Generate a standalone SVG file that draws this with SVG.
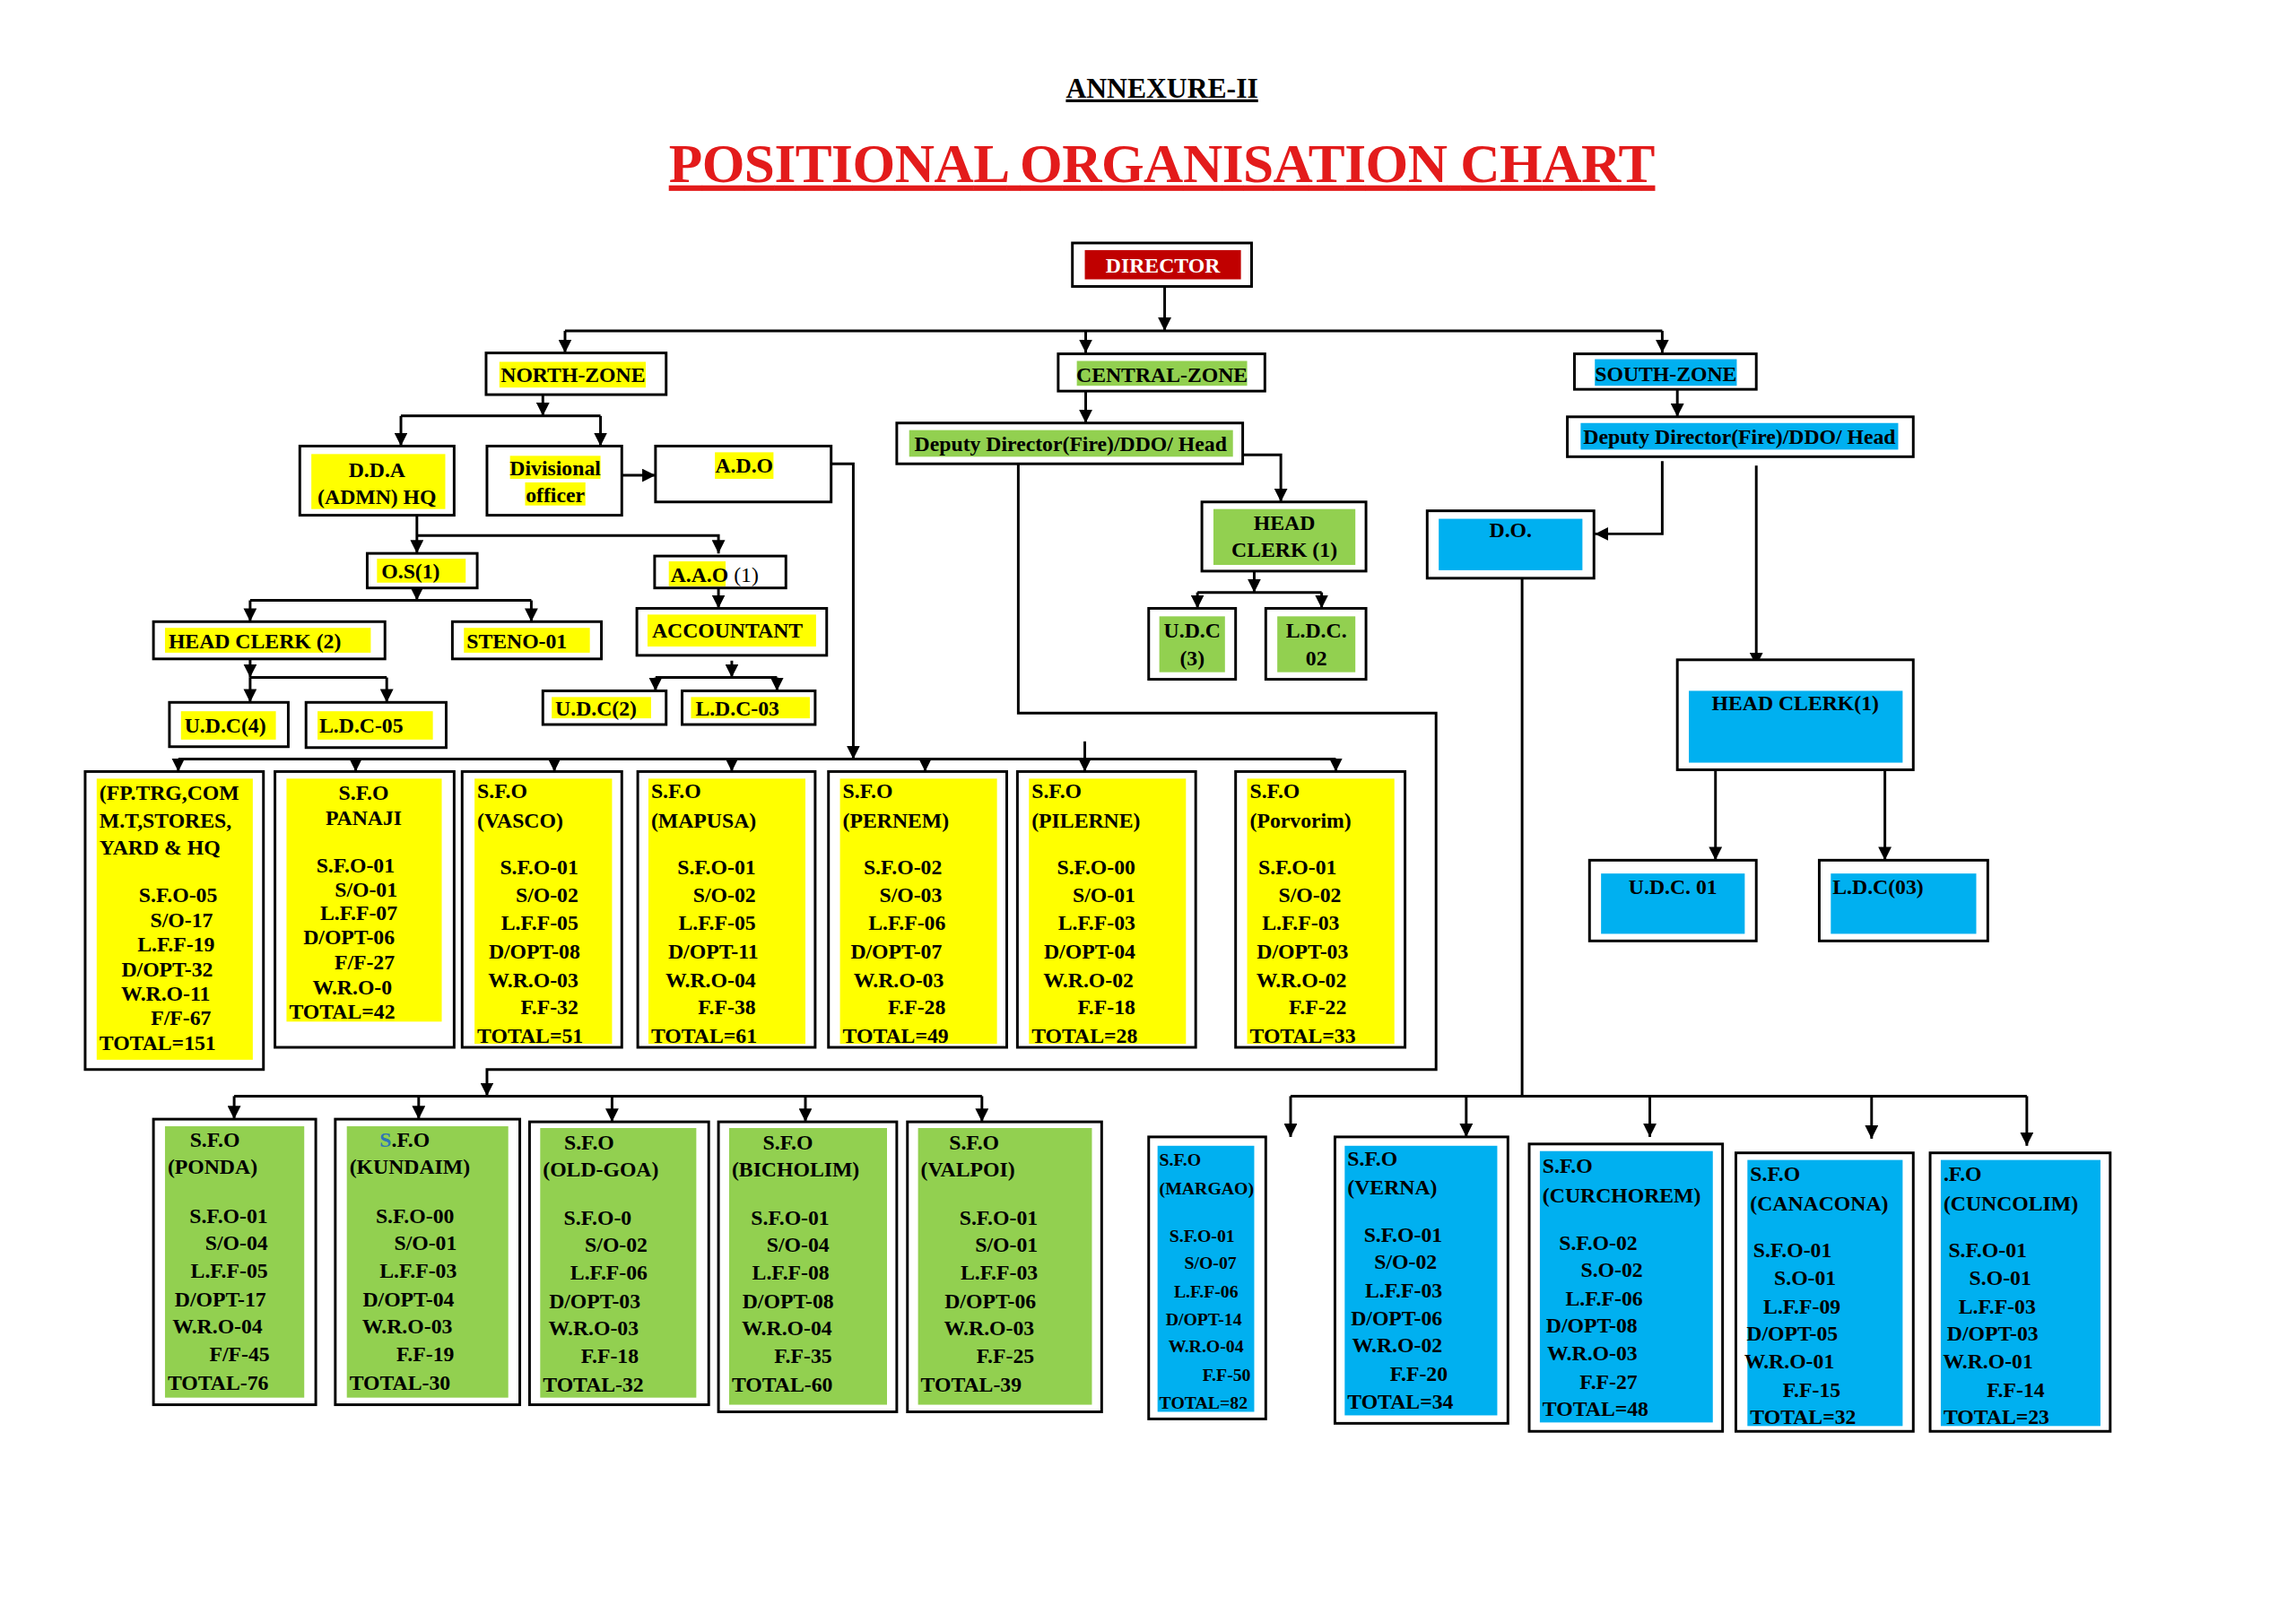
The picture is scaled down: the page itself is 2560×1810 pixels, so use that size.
<svg xmlns="http://www.w3.org/2000/svg" width="2560" height="1810" viewBox="0 0 2560 1810">
<style>
.b{fill:#fff;stroke:#000;stroke-width:3}
.y{fill:#ffff00}.g{fill:#92d050}.c{fill:#00b0f0}.r{fill:#c00000}
text{font-family:"Liberation Serif","Times New Roman",serif;font-weight:bold;font-size:24px;fill:#000}
.m{text-anchor:middle}.e{text-anchor:end}
.ln{fill:none;stroke:#000;stroke-width:3}
.s{font-size:20px}
</style>
<defs><marker id="a" viewBox="0 0 10 10" refX="10" refY="5" markerWidth="5" markerHeight="5" orient="auto" markerUnits="strokeWidth"><path d="M0,0L10,5L0,10z" fill="#000"/></marker></defs>
<rect width="2560" height="1810" fill="#fff"/>
<g transform="scale(0.989)">
<g id="title">
<text x="1310" y="110" class="m" style="font-size:32px" text-decoration="underline">ANNEXURE-II</text>
<text x="1310" y="205" class="m" style="font-size:62px;fill:#e31b1b" textLength="1112" text-decoration="underline">POSITIONAL ORGANISATION CHART</text>
</g>
<g id="connectors" class="ln">
<path d="M1313,323V373" marker-end="url(#a)"/>
<path d="M637,373H1874"/>
<path d="M637,373V398" marker-end="url(#a)"/><path d="M1224,373V398" marker-end="url(#a)"/><path d="M1874,373V398" marker-end="url(#a)"/>
<path d="M612,445V469" marker-end="url(#a)"/><path d="M452,469H677"/>
<path d="M452,469V503" marker-end="url(#a)"/><path d="M677,469V503" marker-end="url(#a)"/>
<path d="M701,536H739" marker-end="url(#a)"/>
<path d="M937,523H962V856" marker-end="url(#a)"/>
<path d="M470,581V624" marker-end="url(#a)"/><path d="M470,604H810V624" marker-end="url(#a)"/>
<path d="M810,663V686" marker-end="url(#a)"/>
<path d="M825,745V764" marker-end="url(#a)"/><path d="M739,764H876"/>
<path d="M739,764V779" marker-end="url(#a)"/><path d="M876,764V779" marker-end="url(#a)"/>
<path d="M470,663V677" marker-end="url(#a)"/><path d="M282,677H599"/>
<path d="M282,677V701" marker-end="url(#a)"/><path d="M599,677V701" marker-end="url(#a)"/>
<path d="M282,743V764" marker-end="url(#a)"/><path d="M282,764H436"/>
<path d="M282,764V792" marker-end="url(#a)"/><path d="M436,764V792" marker-end="url(#a)"/>
<path d="M201,856H1506"/>
<path d="M201,856V870" marker-end="url(#a)"/><path d="M401,856V870" marker-end="url(#a)"/><path d="M625,856V870" marker-end="url(#a)"/><path d="M825,856V870" marker-end="url(#a)"/><path d="M1043,856V870" marker-end="url(#a)"/><path d="M1223,836V870" marker-end="url(#a)"/><path d="M1506,856V870" marker-end="url(#a)"/>
<path d="M1148,523V804H1619V1206H549V1236" marker-end="url(#a)"/>
<path d="M264,1236H1107"/>
<path d="M264,1236V1262" marker-end="url(#a)"/><path d="M472,1236V1262" marker-end="url(#a)"/><path d="M690,1236V1265" marker-end="url(#a)"/><path d="M908,1236V1265" marker-end="url(#a)"/><path d="M1107,1236V1265" marker-end="url(#a)"/>
<path d="M1224,441V477" marker-end="url(#a)"/>
<path d="M1401,513H1444V566" marker-end="url(#a)"/>
<path d="M1414,644V668" marker-end="url(#a)"/><path d="M1350,668H1490"/>
<path d="M1350,668V686" marker-end="url(#a)"/><path d="M1490,668V686" marker-end="url(#a)"/>
<path d="M1891,439V470" marker-end="url(#a)"/>
<path d="M1874,520V602H1798" marker-end="url(#a)"/>
<path d="M1980,525V751" marker-end="url(#a)"/>
<path d="M1934,868V970" marker-end="url(#a)"/><path d="M2125,868V970" marker-end="url(#a)"/>
<path d="M1716,652V1236"/><path d="M1455,1236H2285"/>
<path d="M1455,1236V1282" marker-end="url(#a)"/><path d="M1653,1236V1282" marker-end="url(#a)"/><path d="M1860,1236V1282" marker-end="url(#a)"/><path d="M2110,1236V1284" marker-end="url(#a)"/><path d="M2285,1236V1292" marker-end="url(#a)"/>
</g>
<g id="director"><rect class="b" x="1209" y="274" width="202" height="49"/><rect class="r" x="1223" y="282" width="176" height="33"/><text x="1311" y="307" class="m" style="fill:#fff">DIRECTOR</text></g>
<g id="north"><rect class="b" x="548" y="398" width="203" height="47"/><rect class="y" x="563" y="408" width="165" height="29"/><text x="646" y="431" class="m">NORTH-ZONE</text></g>
<g id="dda"><rect class="b" x="338" y="503" width="174" height="78"/><rect class="y" x="351" y="512" width="151" height="62"/><text x="425" y="538" class="m">D.D.A</text><text x="425" y="568" class="m">(ADMN) HQ</text></g>
<g id="divo"><rect class="b" x="549" y="503" width="152" height="78"/><rect class="y" x="575" y="514" width="102" height="26"/><rect class="y" x="592" y="544" width="68" height="26"/><text x="626" y="536" class="m">Divisional</text><text x="626" y="566" class="m">officer</text></g>
<g id="ado"><rect class="b" x="739" y="503" width="198" height="63"/><rect class="y" x="806" y="510" width="66" height="30"/><text x="839" y="533" class="m">A.D.O</text></g>
<g id="os"><rect class="b" x="414" y="624" width="124" height="39"/><rect class="y" x="425" y="630" width="100" height="27"/><text x="430" y="652">O.S(1)</text></g>
<g id="aao"><rect class="b" x="738" y="627" width="148" height="36"/><rect class="y" x="754" y="633" width="64" height="28"/><text x="756" y="656">A.A.O <tspan style="font-weight:normal">(1)</tspan></text></g>
<g id="acc"><rect class="b" x="718" y="686" width="214" height="53"/><rect class="y" x="730" y="693" width="190" height="36"/><text x="735" y="719">ACCOUNTANT</text></g>
<g id="udc2"><rect class="b" x="612" y="779" width="139" height="38"/><rect class="y" x="622" y="786" width="112" height="24"/><text x="626" y="807">U.D.C(2)</text></g>
<g id="ldc03"><rect class="b" x="769" y="779" width="150" height="38"/><rect class="y" x="779" y="786" width="134" height="24"/><text x="784" y="807">L.D.C-03</text></g>
<g id="hc2"><rect class="b" x="173" y="701" width="261" height="42"/><rect class="y" x="186" y="708" width="232" height="28"/><text x="190" y="731">HEAD CLERK (2)</text></g>
<g id="steno"><rect class="b" x="510" y="701" width="168" height="42"/><rect class="y" x="523" y="708" width="142" height="28"/><text x="526" y="731">STENO-01</text></g>
<g id="udc4"><rect class="b" x="191" y="792" width="134" height="50"/><rect class="y" x="204" y="802" width="107" height="32"/><text x="208" y="826">U.D.C(4)</text></g>
<g id="ldc05"><rect class="b" x="345" y="792" width="158" height="51"/><rect class="y" x="358" y="802" width="130" height="32"/><text x="360" y="826">L.D.C-05</text></g>

<g id="sfo-hq"><rect class="b" x="96" y="870" width="201" height="336"/><rect class="y" x="109" y="878" width="176" height="317"/>
<text x="112" y="902">(FP.TRG,COM</text><text x="112" y="933">M.T,STORES,</text><text x="112" y="964">YARD &amp; HQ</text>
<text class="e" x="245" y="1017">S.F.O-05</text><text class="e" x="240" y="1045">S/O-17</text><text class="e" x="242" y="1073">L.F.F-19</text><text class="e" x="240" y="1101">D/OPT-32</text><text class="e" x="237" y="1128">W.R.O-11</text><text class="e" x="238" y="1156">F/F-67</text><text x="112" y="1184">TOTAL=151</text></g>
<g id="sfo-panaji"><rect class="b" x="310" y="870" width="202" height="311"/><rect class="y" x="323" y="878" width="175" height="274"/>
<text class="m" x="410" y="902">S.F.O</text><text class="m" x="410" y="930">PANAJI</text>
<text class="e" x="445" y="984">S.F.O-01</text><text class="e" x="448" y="1011">S/O-01</text><text class="e" x="448" y="1037">L.F.F-07</text><text class="e" x="445" y="1065">D/OPT-06</text><text class="e" x="445" y="1093">F/F-27</text><text class="e" x="442" y="1121">W.R.O-0</text><text x="326" y="1149">TOTAL=42</text></g>
<g id="sfo-vasco"><rect class="b" x="521" y="870" width="180" height="311"/><rect class="y" x="535" y="878" width="155" height="299"/>
<text x="538" y="900">S.F.O</text><text x="538" y="933">(VASCO)</text>
<text class="e" x="652" y="986">S.F.O-01</text><text class="e" x="652" y="1017">S/O-02</text><text class="e" x="652" y="1049">L.F.F-05</text><text class="e" x="654" y="1081">D/OPT-08</text><text class="e" x="652" y="1113">W.R.O-03</text><text class="e" x="652" y="1144">F.F-32</text><text x="538" y="1176">TOTAL=51</text></g>
<g id="sfo-mapusa"><rect class="b" x="719" y="870" width="200" height="311"/><rect class="y" x="731" y="878" width="177" height="299"/>
<text x="734" y="900">S.F.O</text><text x="734" y="933">(MAPUSA)</text>
<text class="e" x="852" y="986">S.F.O-01</text><text class="e" x="852" y="1017">S/O-02</text><text class="e" x="852" y="1049">L.F.F-05</text><text class="e" x="855" y="1081">D/OPT-11</text><text class="e" x="852" y="1113">W.R.O-04</text><text class="e" x="852" y="1144">F.F-38</text><text x="734" y="1176">TOTAL=61</text></g>
<g id="sfo-pernem"><rect class="b" x="934" y="870" width="201" height="311"/><rect class="y" x="947" y="878" width="177" height="299"/>
<text x="950" y="900">S.F.O</text><text x="950" y="933">(PERNEM)</text>
<text class="e" x="1062" y="986">S.F.O-02</text><text class="e" x="1062" y="1017">S/O-03</text><text class="e" x="1066" y="1049">L.F.F-06</text><text class="e" x="1062" y="1081">D/OPT-07</text><text class="e" x="1064" y="1113">W.R.O-03</text><text class="e" x="1066" y="1144">F.F-28</text><text x="950" y="1176">TOTAL=49</text></g>
<g id="sfo-pilerne"><rect class="b" x="1147" y="870" width="201" height="311"/><rect class="y" x="1160" y="878" width="177" height="299"/>
<text x="1163" y="900">S.F.O</text><text x="1163" y="933">(PILERNE)</text>
<text class="e" x="1280" y="986">S.F.O-00</text><text class="e" x="1280" y="1017">S/O-01</text><text class="e" x="1280" y="1049">L.F.F-03</text><text class="e" x="1280" y="1081">D/OPT-04</text><text class="e" x="1278" y="1113">W.R.O-02</text><text class="e" x="1280" y="1144">F.F-18</text><text x="1163" y="1176">TOTAL=28</text></g>
<g id="sfo-porvorim"><rect class="b" x="1393" y="870" width="191" height="311"/><rect class="y" x="1406" y="878" width="166" height="299"/>
<text x="1409" y="900">S.F.O</text><text x="1409" y="933">(Porvorim)</text>
<text class="e" x="1507" y="986">S.F.O-01</text><text class="e" x="1512" y="1017">S/O-02</text><text class="e" x="1510" y="1049">L.F.F-03</text><text class="e" x="1520" y="1081">D/OPT-03</text><text class="e" x="1518" y="1113">W.R.O-02</text><text class="e" x="1518" y="1144">F.F-22</text><text x="1409" y="1176">TOTAL=33</text></g>

<g id="sfo-ponda"><rect class="b" x="173" y="1262" width="183" height="322"/><rect class="g" x="186" y="1270" width="157" height="306"/>
<text x="214" y="1293">S.F.O</text><text x="189" y="1324">(PONDA)</text>
<text class="e" x="302" y="1379">S.F.O-01</text><text class="e" x="302" y="1410">S/O-04</text><text class="e" x="302" y="1441">L.F.F-05</text><text class="e" x="300" y="1473">D/OPT-17</text><text class="e" x="296" y="1504">W.R.O-04</text><text class="e" x="304" y="1535">F/F-45</text><text x="189" y="1567">TOTAL-76</text></g>
<g id="sfo-kundaim"><rect class="b" x="378" y="1262" width="208" height="322"/><rect class="g" x="391" y="1270" width="182" height="306"/>
<text x="428" y="1293"><tspan style="fill:#2e75b6">S</tspan>.F.O</text><text x="394" y="1324">(KUNDAIM)</text>
<text class="e" x="512" y="1379">S.F.O-00</text><text class="e" x="515" y="1410">S/O-01</text><text class="e" x="515" y="1441">L.F.F-03</text><text class="e" x="512" y="1473">D/OPT-04</text><text class="e" x="510" y="1504">W.R.O-03</text><text class="e" x="512" y="1535">F.F-19</text><text x="394" y="1567">TOTAL-30</text></g>
<g id="sfo-oldgoa"><rect class="b" x="597" y="1265" width="202" height="319"/><rect class="g" x="609" y="1272" width="176" height="304"/>
<text x="636" y="1296">S.F.O</text><text x="612" y="1327">(OLD-GOA)</text>
<text class="e" x="712" y="1381">S.F.O-0</text><text class="e" x="730" y="1412">S/O-02</text><text class="e" x="730" y="1443">L.F.F-06</text><text class="e" x="722" y="1475">D/OPT-03</text><text class="e" x="720" y="1506">W.R.O-03</text><text class="e" x="720" y="1537">F.F-18</text><text x="612" y="1569">TOTAL-32</text></g>
<g id="sfo-bicholim"><rect class="b" x="810" y="1265" width="201" height="327"/><rect class="g" x="822" y="1272" width="178" height="312"/>
<text x="860" y="1296">S.F.O</text><text x="825" y="1327">(BICHOLIM)</text>
<text class="e" x="935" y="1381">S.F.O-01</text><text class="e" x="935" y="1412">S/O-04</text><text class="e" x="935" y="1443">L.F.F-08</text><text class="e" x="940" y="1475">D/OPT-08</text><text class="e" x="938" y="1506">W.R.O-04</text><text class="e" x="938" y="1537">F.F-35</text><text x="825" y="1569">TOTAL-60</text></g>
<g id="sfo-valpoi"><rect class="b" x="1023" y="1265" width="219" height="327"/><rect class="g" x="1035" y="1272" width="196" height="312"/>
<text x="1070" y="1296">S.F.O</text><text x="1038" y="1327">(VALPOI)</text>
<text class="e" x="1170" y="1381">S.F.O-01</text><text class="e" x="1170" y="1412">S/O-01</text><text class="e" x="1170" y="1443">L.F.F-03</text><text class="e" x="1168" y="1475">D/OPT-06</text><text class="e" x="1166" y="1506">W.R.O-03</text><text class="e" x="1166" y="1537">F.F-25</text><text x="1038" y="1569">TOTAL-39</text></g>

<g id="central"><rect class="b" x="1193" y="399" width="233" height="42"/><rect class="g" x="1214" y="407" width="192" height="28"/><text x="1310" y="431" class="m">CENTRAL-ZONE</text></g>
<g id="dd-central"><rect class="b" x="1011" y="477" width="390" height="46"/><rect class="g" x="1025" y="485" width="365" height="30"/><text x="1207" y="509" class="m">Deputy Director(Fire)/DDO/ Head</text></g>
<g id="hc-central"><rect class="b" x="1355" y="566" width="185" height="78"/><rect class="g" x="1368" y="574" width="160" height="63"/><text x="1448" y="598" class="m">HEAD</text><text x="1448" y="628" class="m">CLERK (1)</text></g>
<g id="udc3"><rect class="b" x="1295" y="686" width="98" height="80"/><rect class="g" x="1307" y="695" width="74" height="63"/><text x="1344" y="719" class="m">U.D.C</text><text x="1344" y="750" class="m">(3)</text></g>
<g id="ldc02"><rect class="b" x="1427" y="686" width="113" height="80"/><rect class="g" x="1440" y="695" width="88" height="63"/><text x="1484" y="719" class="m">L.D.C.</text><text x="1484" y="750" class="m">02</text></g>

<g id="south"><rect class="b" x="1775" y="399" width="205" height="40"/><rect class="c" x="1798" y="405" width="160" height="30"/><text x="1878" y="430" class="m">SOUTH-ZONE</text></g>
<g id="dd-south"><rect class="b" x="1767" y="470" width="390" height="45"/><rect class="c" x="1782" y="477" width="358" height="30"/><text x="1961" y="501" class="m">Deputy Director(Fire)/DDO/ Head</text></g>
<g id="do"><rect class="b" x="1609" y="576" width="188" height="76"/><rect class="c" x="1622" y="585" width="162" height="58"/><text x="1703" y="606" class="m">D.O.</text></g>
<g id="hc-south"><rect class="b" x="1891" y="744" width="266" height="124"/><rect class="c" x="1904" y="779" width="241" height="81"/><text x="2024" y="801" class="m">HEAD CLERK(1)</text></g>
<g id="udc01"><rect class="b" x="1792" y="970" width="188" height="91"/><rect class="c" x="1805" y="985" width="162" height="68"/><text x="1886" y="1008" class="m">U.D.C. 01</text></g>
<g id="ldc03s"><rect class="b" x="2051" y="970" width="190" height="91"/><rect class="c" x="2064" y="985" width="164" height="68"/><text x="2066" y="1008">L.D.C(03)</text></g>

<g id="sfo-margao"><rect class="b" x="1295" y="1282" width="132" height="318"/><rect class="c" x="1305" y="1292" width="109" height="300"/>
<text class="s" x="1307" y="1314">S.F.O</text><text class="s" x="1307" y="1347">(MARGAO)</text>
<text class="s e" x="1392" y="1400">S.F.O-01</text><text class="s e" x="1394" y="1431">S/O-07</text><text class="s e" x="1396" y="1463">L.F.F-06</text><text class="s e" x="1400" y="1494">D/OPT-14</text><text class="s e" x="1402" y="1525">W.R.O-04</text><text class="s e" x="1410" y="1557">F.F-50</text><text class="s" x="1307" y="1588">TOTAL=82</text></g>
<g id="sfo-verna"><rect class="b" x="1505" y="1282" width="195" height="323"/><rect class="c" x="1516" y="1292" width="172" height="304"/>
<text x="1519" y="1314">S.F.O</text><text x="1519" y="1347">(VERNA)</text>
<text class="e" x="1626" y="1400">S.F.O-01</text><text class="e" x="1620" y="1431">S/O-02</text><text class="e" x="1626" y="1463">L.F.F-03</text><text class="e" x="1626" y="1494">D/OPT-06</text><text class="e" x="1626" y="1525">W.R.O-02</text><text class="e" x="1632" y="1557">F.F-20</text><text x="1519" y="1588">TOTAL=34</text></g>
<g id="sfo-curchorem"><rect class="b" x="1724" y="1290" width="218" height="324"/><rect class="c" x="1736" y="1298" width="195" height="306"/>
<text x="1739" y="1323">S.F.O</text><text x="1739" y="1356">(CURCHOREM)</text>
<text class="e" x="1846" y="1409">S.F.O-02</text><text class="e" x="1852" y="1440">S.O-02</text><text class="e" x="1852" y="1472">L.F.F-06</text><text class="e" x="1846" y="1503">D/OPT-08</text><text class="e" x="1846" y="1534">W.R.O-03</text><text class="e" x="1846" y="1566">F.F-27</text><text x="1739" y="1597">TOTAL=48</text></g>
<g id="sfo-canacona"><rect class="b" x="1957" y="1300" width="200" height="314"/><rect class="c" x="1970" y="1308" width="175" height="300"/>
<text x="1973" y="1332">S.F.O</text><text x="1973" y="1365">(CANACONA)</text>
<text class="e" x="2065" y="1418">S.F.O-01</text><text class="e" x="2070" y="1449">S.O-01</text><text class="e" x="2075" y="1481">L.F.F-09</text><text class="e" x="2072" y="1512">D/OPT-05</text><text class="e" x="2068" y="1543">W.R.O-01</text><text class="e" x="2075" y="1575">F.F-15</text><text x="1973" y="1606">TOTAL=32</text></g>
<g id="sfo-cuncolim"><rect class="b" x="2176" y="1300" width="203" height="314"/><rect class="c" x="2188" y="1308" width="180" height="300"/>
<text x="2191" y="1332">.F.O</text><text x="2191" y="1365">(CUNCOLIM)</text>
<text class="e" x="2285" y="1418">S.F.O-01</text><text class="e" x="2290" y="1449">S.O-01</text><text class="e" x="2295" y="1481">L.F.F-03</text><text class="e" x="2298" y="1512">D/OPT-03</text><text class="e" x="2292" y="1543">W.R.O-01</text><text class="e" x="2305" y="1575">F.F-14</text><text x="2191" y="1606">TOTAL=23</text></g>
</g>
</svg>
